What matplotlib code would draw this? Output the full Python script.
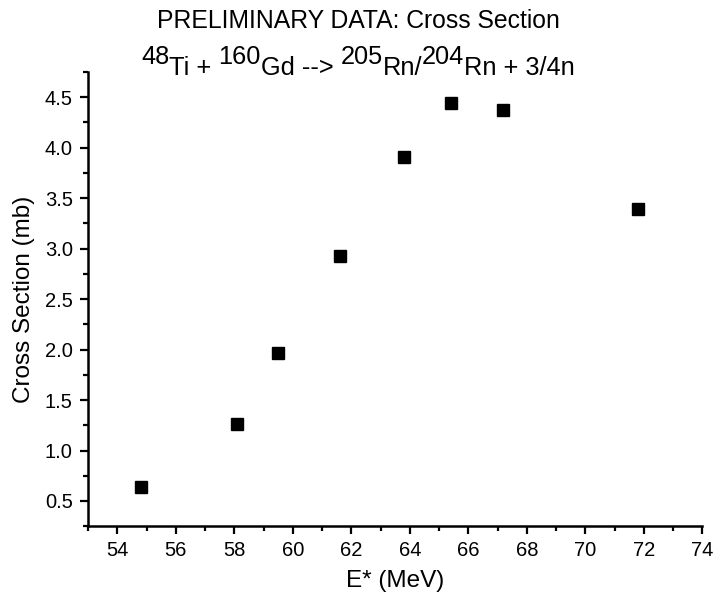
"""Cross section vs excitation energy, 48Ti + 160Gd"""
import matplotlib
matplotlib.use('Agg')
import matplotlib.pyplot as plt
from matplotlib.ticker import MultipleLocator

# Data
energy_mev = [54.8, 58.1, 59.5, 61.6, 63.8, 65.4, 67.2, 71.8]
cross_section_mb = [0.64, 1.26, 1.97, 2.93, 3.91, 4.44, 4.37, 3.39]

title_line1 = 'PRELIMINARY DATA: Cross Section'
# (text, is_superscript) pieces of the reaction line
title_line2 = [('48', True), ('Ti + ', False), ('160', True), ('Gd --> ', False),
               ('205', True), ('Rn/', False), ('204', True), ('Rn + 3/4n', False)]

plt.rcParams['font.family'] = ['Liberation Sans', 'DejaVu Sans']

W, H = 716, 600
fig = plt.figure(figsize=(W / 100, H / 100), dpi=100)
ax = fig.add_axes([0.123, 0.123, 0.858, 0.757])

ax.plot(energy_mev, cross_section_mb, linestyle='none', marker='s',
        markersize=8, color='black')

ax.set_xlim(53, 74)
ax.set_ylim(0.25, 4.75)
ax.xaxis.set_major_locator(MultipleLocator(2))
ax.xaxis.set_minor_locator(MultipleLocator(1))
ax.yaxis.set_major_locator(MultipleLocator(0.5))
ax.yaxis.set_minor_locator(MultipleLocator(0.25))
ax.yaxis.set_major_formatter(plt.FuncFormatter(lambda v, p: f'{v:.1f}'))

for side in ['top', 'right']:
    ax.spines[side].set_visible(False)
for side in ['left', 'bottom']:
    ax.spines[side].set_linewidth(1.8)

ax.tick_params(which='major', direction='out', length=6, width=1.6,
               labelsize=14.5, pad=5)
ax.tick_params(which='minor', direction='out', length=3.5, width=1.6)

ax.set_xlabel('E* (MeV)', fontsize=17.5, labelpad=7)
ax.set_ylabel('Cross Section (mb)', fontsize=17.5, labelpad=7)

# title line 1
title_size = 17.8
fig.text(0.5, 1 - 28 / H, title_line1, ha='center', va='baseline',
         fontsize=title_size)

# title line 2: full-size superscripts, placed piece by piece
line2_size = 18.3
renderer = fig.canvas.get_renderer()


def text_width(s):
    t = fig.text(0, 0, s + '|', fontsize=line2_size)
    bar = fig.text(0, 0, '|', fontsize=line2_size)
    w = t.get_window_extent(renderer).width - bar.get_window_extent(renderer).width
    t.remove()
    bar.remove()
    return w


widths = [text_width(s) for s, _ in title_line2]
x_px = W / 2 - sum(widths) / 2
base_px = 75
sup_px = 64
for (s, sup), w in zip(title_line2, widths):
    y_px = sup_px if sup else base_px
    fig.text(x_px / W, 1 - y_px / H, s, ha='left', va='baseline',
             fontsize=line2_size)
    x_px += w

fig.savefig('out.png', dpi=100)
